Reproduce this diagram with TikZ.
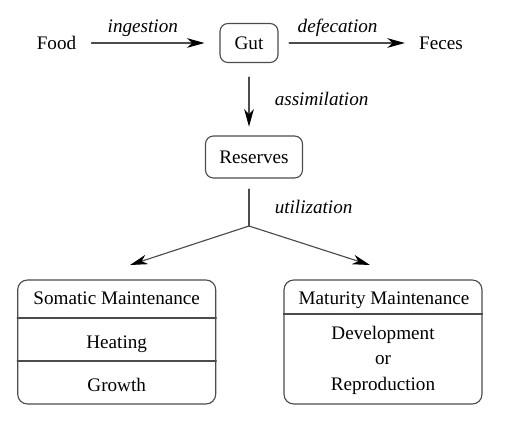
\documentclass[tikz,border=0pt]{standalone}
\usepackage{fontspec}
\setmainfont{Liberation Serif}
\usetikzlibrary{arrows.meta}
\tikzset{
	rbox/.style={draw, rounded corners=4.5pt, inner sep=0pt},
	bigbox/.style={draw, rounded corners=5.5pt, minimum width=3.96cm, minimum height=2.48cm},
	lab/.style={font=\rmfamily\fontsize{10.9}{13}\selectfont\itshape}
}
\begin{document}
\begin{tikzpicture}[x=0.02cm, y=-0.02cm, font=\rmfamily\fontsize{10.9}{13}\selectfont, line join=round, line cap=round, line width=0.65pt, draw=black!70, >={Stealth[length=10pt,width=5.5pt,inset=3pt,color=black]}]
	\useasboundingbox (0,0) rectangle (506,422);
	\node (food) at (56.5,43) {Food};
	\node[rbox, minimum width=1.16cm, minimum height=0.78cm] (gut) at (249,43) {Gut};
	\node (feces) at (441,43) {Feces};
	\node[rbox, minimum width=1.94cm, minimum height=0.84cm] (res) at (254,157) {Reserves};
	\coordinate (split) at (249,226);
	\coordinate (somin) at (130,265);
	\coordinate (matin) at (370,265);
	\node[bigbox] (soma) at (116.7,342) {};
	\node[bigbox] (matu) at (383,342) {};
	\draw[->, shorten <=5pt, shorten >=8.5pt] (food) -- node[lab, above, pos=0.44]{ingestion} (gut);
	\draw[->, shorten <=6pt, shorten >=4.5pt] (gut) -- node[lab, above, pos=0.44]{defecation} (feces);
	\draw[->, shorten <=8pt, shorten >=5pt] (gut) -- node[lab, right=11pt]{assimilation} (gut |- res.north);
	\draw[shorten <=6pt] (res.south -| split) -- node[lab, right=11pt, pos=0.6]{utilization} (split);
	\draw[->] (split) -- (somin);
	\draw[->] (split) -- (matin);
	\draw (soma.west |- 0,318) -- (soma.east |- 0,318);
	\draw (soma.west |- 0,361) -- (soma.east |- 0,361);
	\draw (matu.west |- 0,314) -- (matu.east |- 0,314);
	\node[anchor=base] (somt) at (116.7,304) {Somatic Maintenance};
	\node[anchor=base] (heat) at (116.7,348) {Heating};
	\node[anchor=base] (grow) at (116.7,391) {Growth};
	\node[anchor=base] (matt) at (384,304) {Maturity Maintenance};
	\node[align=center, font=\rmfamily\fontsize{10.9}{14.5}\selectfont] (devr) at (383,360) {Development\\or\\Reproduction};
\end{tikzpicture}
\end{document}
